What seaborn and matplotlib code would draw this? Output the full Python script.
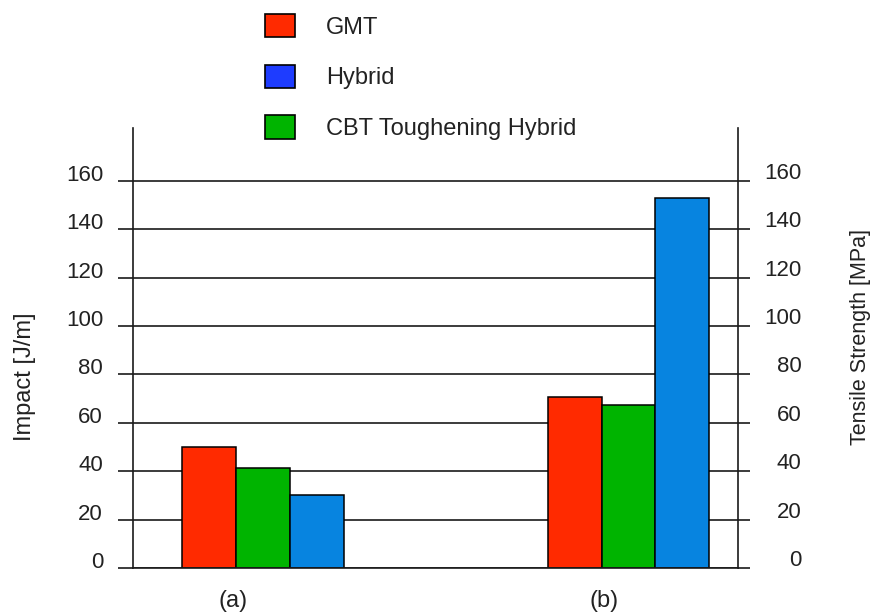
import matplotlib
matplotlib.use("Agg")
import matplotlib.pyplot as plt
from matplotlib.patches import Patch
from matplotlib.transforms import ScaledTranslation
import seaborn as sns
import pandas as pd

# ---- data ----
groups = ["(a)", "(b)"]
materials = ["GMT", "CBT Toughening Hybrid", "Hybrid"]
gmt_values = [50, 70.5]
cbt_values = [41.5, 67.5]
hybrid_values = [30, 153]
y_ticks = [0, 20, 40, 60, 80, 100, 120, 140, 160]
legend_order = ["GMT", "Hybrid", "CBT Toughening Hybrid"]

bar_colors = {"GMT": "#FF2A00", "CBT Toughening Hybrid": "#00B400", "Hybrid": "#0784E0"}
legend_colors = {"GMT": "#FF2A00", "Hybrid": "#1E3CFF", "CBT Toughening Hybrid": "#00B400"}

df = pd.DataFrame({
    "group": groups * 3,
    "material": ["GMT"] * 2 + ["CBT Toughening Hybrid"] * 2 + ["Hybrid"] * 2,
    "value": gmt_values + cbt_values + hybrid_values,
})

sns.set_theme(style="white")
plt.rcParams["font.family"] = ["Liberation Sans", "DejaVu Sans"]
text_color = "#222222"
line_color = "#1a1a1a"

fig = plt.figure(figsize=(8.72, 6.13), dpi=100)
W, H = 872, 613
ax = fig.add_axes([133 / W, 1 - 568 / H, (738 - 133) / W, (568 - 128) / H])

ax.set_axisbelow(True)
for v in y_ticks:
    ax.axhline(v, color=line_color, lw=1.2, zorder=0)

sns.barplot(data=df, x="group", y="value", hue="material", hue_order=materials,
            palette=[bar_colors[m] for m in materials], width=0.443, saturation=1,
            edgecolor="black", linewidth=1.1, legend=False, ax=ax, zorder=2)

ymax = (568 - 128) / 2.419
ax.set_ylim(0, ymax)
ax.set_xlim(-0.3557, 1.2996)

for s in ["top", "right"]:
    ax.spines[s].set_visible(False)
for s in ["left", "bottom"]:
    ax.spines[s].set_color(line_color)
    ax.spines[s].set_linewidth(1.2)

ax.set_yticks(y_ticks)
ax.set_yticklabels([str(t) for t in y_ticks])
ax.tick_params(axis="y", direction="out", length=10.8, width=1.2, color=line_color,
               pad=10.8, labelsize=16, labelcolor=text_color, left=True)
ax.set_xticks([-0.082, 0.932])
ax.set_xticklabels(groups)
ax.tick_params(axis="x", length=0, pad=16, labelsize=17, labelcolor=text_color)
ax.set_xlabel("")
ax.set_ylabel("")

ax2 = ax.twinx()
ax2.set_position(ax.get_position())
ax2.set_ylim(0, ymax)
ax2.set_yticks(y_ticks)
ax2.set_yticklabels([str(t) for t in y_ticks])
for s in ["top", "left", "bottom"]:
    ax2.spines[s].set_visible(False)
ax2.spines["right"].set_color(line_color)
ax2.spines["right"].set_linewidth(1.2)
ax2.tick_params(axis="y", direction="out", length=8.6, width=1.2, color=line_color,
                pad=37, labelsize=16, labelcolor=text_color, right=True)
for lab in ax2.get_yticklabels():
    lab.set_ha("right")
    lab.set_transform(lab.get_transform() + ScaledTranslation(0, 10 / 100, fig.dpi_scale_trans))
for lab in ax.get_yticklabels():
    lab.set_transform(lab.get_transform() + ScaledTranslation(0, 8 / 100, fig.dpi_scale_trans))

fig.text(25 / W, 1 - 377 / H, "Impact [J/m]", rotation=90, ha="center", va="center",
         fontsize=17, color=text_color)
fig.text(860 / W, 1 - 337 / H, "Tensile Strength [MPa]", rotation=90, ha="center", va="center",
         fontsize=15.5, color=text_color)

handles = [Patch(facecolor=legend_colors[m], edgecolor="black", linewidth=1.2, label=m)
           for m in legend_order]
fig.legend(handles=handles, loc="upper left", bbox_to_anchor=(265 / W, 1 - 14 / H),
           frameon=False, fontsize=17, handlelength=1.27, handleheight=1.14,
           handletextpad=1.3, labelspacing=1.1, borderpad=0, borderaxespad=0,
           labelcolor=text_color)

fig.savefig("out.png", dpi=100)
